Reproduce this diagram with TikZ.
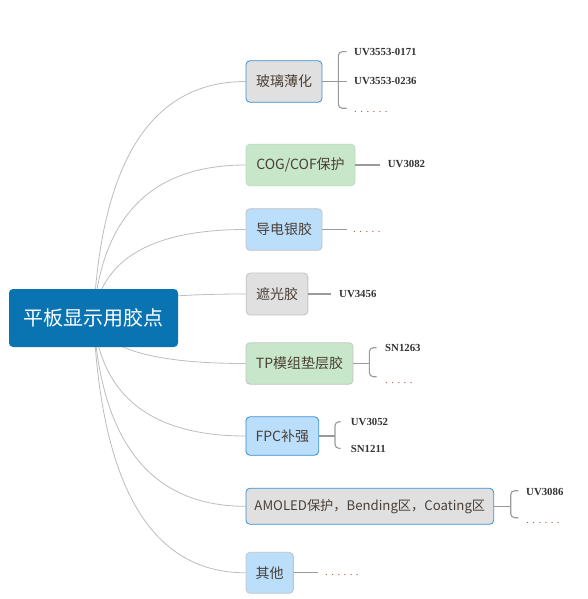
\documentclass[tikz,border=0pt]{standalone}
\usepackage{fontspec}
\setmainfont{Noto Sans CJK SC}
\newfontfamily\cjkfont{Noto Sans CJK SC}
\newfontfamily\leaffont{Liberation Serif}
\newfontfamily\dotfont{Liberation Serif}[LetterSpace=32]
\usetikzlibrary{calc,backgrounds}
\definecolor{rootblue}{HTML}{0A74B2}
\definecolor{gfill}{HTML}{E0E0E0}
\definecolor{bfill}{HTML}{BBDEFB}
\definecolor{grfill}{HTML}{C8E6C9}
\definecolor{blueline}{HTML}{3A90D0}
\definecolor{grayline}{HTML}{C4C4C4}
\definecolor{greenline}{HTML}{BCDDBE}
\definecolor{btext}{HTML}{4A4038}
\definecolor{leaftext}{HTML}{333333}
\definecolor{conncol}{HTML}{BDBDBD}
\definecolor{leafline}{HTML}{9A9A9A}
\definecolor{dotcol}{HTML}{A05A46}
\tikzset{
  rootbox/.style={rectangle, rounded corners=4pt, fill=rootblue, text=white,
    font=\cjkfont\fontsize{20}{24}\selectfont, minimum width=169pt, minimum height=58pt, inner sep=0pt},
  branch/.style={rectangle, rounded corners=4pt, line width=0.8pt, text=btext,
    font=\cjkfont\fontsize{14}{17}\selectfont, inner sep=0pt},
  grayblue/.style={branch, fill=gfill, draw=blueline},
  graygray/.style={branch, fill=gfill, draw=grayline},
  greengreen/.style={branch, fill=grfill, draw=greenline},
  greengray/.style={branch, fill=grfill, draw=grayline},
  blueblue/.style={branch, fill=bfill, draw=blueline},
  bluegray/.style={branch, fill=bfill, draw=grayline},
  leaf/.style={anchor=west, inner sep=0pt, text=leaftext,
    font=\leaffont\bfseries\fontsize{10.8}{13}\selectfont},
  dotnode/.style={anchor=base west, inner sep=0pt, text=dotcol,
    font=\dotfont\fontsize{10.8}{13}\selectfont},
  conn/.style={draw=conncol, line width=0.8pt},
  lc/.style={draw=leafline, line width=1.1pt},
  brk/.style={lc, rounded corners=4pt}
}
\begin{document}
\begin{tikzpicture}[x=1pt,y=-1pt]
\useasboundingbox (0,0) rectangle (588,599);
% root
\node[rootbox] (root) at (93.5,318) {平板显示用胶点};
% branches
\node[grayblue, minimum width=76pt, minimum height=41.6pt] (b1) at (284,81.5) {玻璃薄化};
\node[greengreen, minimum width=109pt, minimum height=41.6pt] (b2) at (300.5,165) {COG/COF保护};
\node[bluegray, minimum width=76pt, minimum height=41.6pt] (b3) at (284,229.5) {导电银胶};
\node[graygray, minimum width=61.7pt, minimum height=42pt] (b4) at (277,294) {遮光胶};
\node[greengray, minimum width=107pt, minimum height=41.5pt] (b5) at (299.5,363.5) {TP模组垫层胶};
\node[blueblue, minimum width=72.7pt, minimum height=38.5pt] (b6) at (282.3,436) {FPC补强};
\node[grayblue, minimum width=247.7pt, minimum height=36pt, font=\cjkfont\fontsize{13.2}{16}\selectfont] (b7) at (369.8,506.3) {AMOLED保护，Bending区，Coating区};
\node[bluegray, minimum width=47.3pt, minimum height=41pt] (b8) at (269.7,572.8) {其他};
% curves from root
\begin{scope}[on background layer]
\fill[white] (0,0) rectangle (588,599);
\foreach \b/\yy in {b1/81.5,b2/165,b3/229.5,b4/294,b5/363.5,b6/436,b7/506.3,b8/572.8}{
  \draw[conn] (root.center) .. controls ($(root.center)!2/3!(105,\yy)$) and ($(\b.west)!2/3!(105,\yy)$) .. (\b.west);
}
\end{scope}
% branch 1
\coordinate (k1t) at (346.7,51.7);
\coordinate (k1m) at (346.7,81.5);
\coordinate (k1b) at (346.7,108.3);
\draw[lc] (b1.east) -- (k1m);
\draw[brk] (k1t) -- ++(-8.4,0) |- (k1b);
\node[leaf] (l1a) at (354,52.3) {UV3553-0171};
\node[leaf] (l1b) at (354,81) {UV3553-0236};
\node[dotnode] (l1c) at (354,113) {......};
% branch 2
\coordinate (e2) at (380,165);
\draw[lc] (b2.east) -- (e2);
\node[leaf] (l2a) at (387.7,164.3) {UV3082};
% branch 3
\coordinate (e3) at (347,229.5);
\draw[lc] (b3.east) -- (e3);
\node[dotnode] (l3a) at (353,232) {.....};
% branch 4
\coordinate (e4) at (331,294);
\draw[lc] (b4.east) -- (e4);
\node[leaf] (l4a) at (339,294) {UV3456};
% branch 5
\coordinate (s5) at (369.3,363.5);
\coordinate (k5t) at (376.7,347.7);
\coordinate (k5b) at (376.7,376.7);
\draw[lc] (b5.east) -- (s5);
\draw[brk] (k5t) -- ++(-7.4,0) |- (k5b);
\node[leaf] (l5a) at (385,348) {SN1263};
\node[dotnode] (l5b) at (385,383) {.....};
% branch 6
\coordinate (s6) at (335,436);
\coordinate (k6t) at (340.5,421.7);
\coordinate (k6b) at (340.5,448.3);
\draw[lc] (b6.east) -- (s6);
\draw[brk] (k6t) -- ++(-5.5,0) |- (k6b);
\node[leaf] (l6a) at (350.7,422.3) {UV3052};
\node[leaf] (l6b) at (350.7,449) {SN1211};
% branch 7
\coordinate (s7) at (510.7,506.3);
\coordinate (k7t) at (518.3,490.7);
\coordinate (k7b) at (518.3,517.7);
\draw[lc] (b7.east) -- (s7);
\draw[brk] (k7t) -- ++(-7.6,0) |- (k7b);
\node[leaf] (l7a) at (526,491.7) {UV3086};
\node[dotnode] (l7b) at (526,523) {......};
% branch 8
\coordinate (e8) at (318.3,572.8);
\draw[lc] (b8.east) -- (e8);
\node[dotnode] (l8a) at (325,575.5) {......};
\end{tikzpicture}
\end{document}
